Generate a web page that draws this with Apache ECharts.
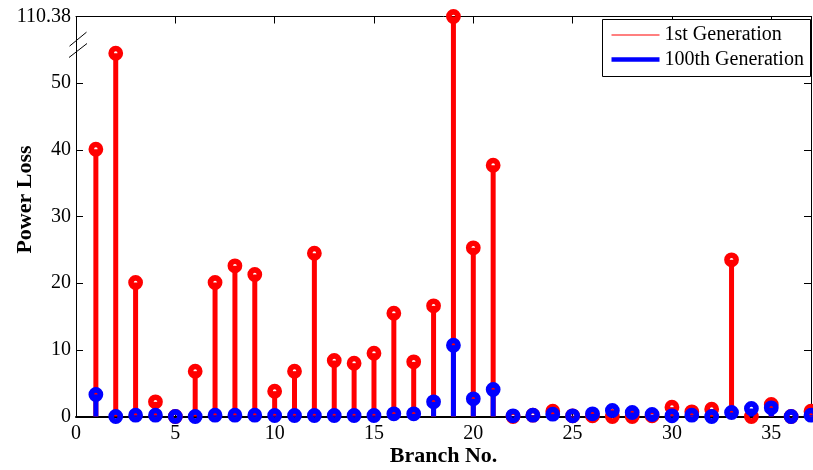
<!DOCTYPE html>
<html>
<head>
<meta charset="utf-8">
<script src="https://cdn.jsdelivr.net/npm/echarts@6/dist/echarts.min.js"></script>
<style>html,body{margin:0;padding:0;background:#fff}#chart{width:813px;height:470px}</style>
</head>
<body>
<div id="chart"></div>
<script>
// ---- data ----
const branches = [1,2,3,4,5,6,7,8,9,10,11,12,13,14,15,16,17,18,19,20,21,22,23,24,25,26,27,28,29,30,31,32,33,34,35,36,37];
const gen1 = [40.1,54.5,20.1,2.2,0.0,6.8,20.1,22.6,21.3,3.8,6.8,24.5,8.4,8.0,9.5,15.5,8.2,16.6,110.38,25.3,37.7,0.0,0.2,0.8,0.1,0.1,0.0,0.0,0.1,1.4,0.7,1.1,23.5,0.0,1.8,0.0,0.8];
const gen100 = [3.3,0.0,0.2,0.2,0.0,0.0,0.2,0.2,0.2,0.15,0.15,0.15,0.15,0.15,0.15,0.4,0.4,2.2,10.7,2.65,4.05,0.1,0.2,0.35,0.1,0.4,0.9,0.6,0.3,0.1,0.2,0.0,0.6,1.2,1.3,0.0,0.2];
const yTicks = [0,10,20,30,40,50];
const yTopLabel = '110.38';
const seriesNames = ['1st Generation','100th Generation'];

// broken y axis: values above breakAt are drawn at the axis top (labelled 110.38)
const axisTop = 60, breakAt = 56;
const toAxis = v => (v > breakAt ? axisTop : v);

const FONT = 'Liberation Serif';
const chart = echarts.init(document.getElementById('chart'), null, {renderer:'canvas'});

function stemRenderer(color, lw) {
  return function (params, api) {
    const x = api.value(0), y = api.value(1);
    const p0 = api.coord([x, 0]);
    const p1 = api.coord([x, y]);
    return {
      type: 'group',
      children: [
        {type:'line', shape:{x1:p0[0], y1:p0[1], x2:p1[0], y2:p1[1]}, style:{stroke:color, lineWidth:lw}},
        {type:'circle', shape:{cx:p1[0], cy:p1[1], r:4.6}, style:{fill:'transparent', stroke:color, lineWidth:5.6}}
      ]
    };
  };
}

const axisCommon = {
  axisLine:{show:true, onZero:false, lineStyle:{color:'#000', width:1}},
  splitLine:{show:false}
};

const option = {
  animation:false,
  backgroundColor:'#fff',
  grid:{left:76, right:2, top:16.5, bottom:53.5, containLabel:false, outerBoundsMode:'none'},
  xAxis:[
    Object.assign({}, axisCommon, {
      type:'value', position:'bottom', min:0, max:37, interval:5,
      axisLine:{show:true, onZero:false, lineStyle:{color:'#000', width:2}},
      axisTick:{show:true, inside:true, length:7, lineStyle:{color:'#000'}},
      axisLabel:{color:'#000', fontFamily:FONT, fontSize:20, margin:7, showMaxLabel:false},
      name:'Branch No.', nameLocation:'middle', nameGap:29, nameMoveOverlap:false,
      nameTextStyle:{color:'#000', fontFamily:FONT, fontSize:22, fontWeight:'bold'}
    }),
    Object.assign({}, axisCommon, {
      type:'value', position:'top', min:0, max:37, interval:5,
      axisTick:{show:true, inside:true, length:7, lineStyle:{color:'#000'}},
      axisLabel:{show:false}
    })
  ],
  yAxis:[
    Object.assign({}, axisCommon, {
      type:'value', position:'left', min:0, max:axisTop, interval:10,
      axisTick:{show:true, inside:true, length:7, lineStyle:{color:'#000'}},
      axisLabel:{color:'#000', fontFamily:FONT, fontSize:20, margin:5,
        formatter: v => (v === axisTop ? yTopLabel : (yTicks.indexOf(v) >= 0 ? String(v) : ''))},
      name:'Power Loss', nameLocation:'middle', nameGap:40, nameMoveOverlap:false,
      nameTextStyle:{color:'#000', fontFamily:FONT, fontSize:22, fontWeight:'bold', padding:[0,0,0,34]}
    }),
    Object.assign({}, axisCommon, {
      type:'value', position:'right', min:0, max:axisTop, interval:10,
      axisTick:{show:true, inside:true, length:7, lineStyle:{color:'#000'}},
      axisLabel:{show:false}
    })
  ],
  legend:[
    {data:[{name:seriesNames[0], icon:'rect', itemStyle:{color:'#ff0000'}}],
     left:611.5, top:25, itemWidth:48, itemHeight:1.2, padding:0, z:10,
     selectedMode:false,
     textStyle:{color:'#000', fontFamily:FONT, fontSize:20}},
    {data:[{name:seriesNames[1], icon:'rect', itemStyle:{color:'#0000ff'}}],
     left:611.5, top:49.5, itemWidth:48, itemHeight:4.5, padding:0, z:10,
     selectedMode:false,
     textStyle:{color:'#000', fontFamily:FONT, fontSize:20}}
  ],
  series:[
    {name:seriesNames[0], type:'custom', xAxisIndex:0, yAxisIndex:0, clip:false, z:2,
     itemStyle:{color:'#ff0000'},
     renderItem: stemRenderer('#ff0000', 5),
     data: branches.map((b,i)=>[b, toAxis(gen1[i])])},
    {name:seriesNames[1], type:'custom', xAxisIndex:0, yAxisIndex:0, clip:false, z:3,
     itemStyle:{color:'#0000ff'},
     renderItem: stemRenderer('#0000ff', 5),
     data: branches.map((b,i)=>[b, toAxis(gen100[i])])}
  ]
};
chart.setOption(option);

// legend frame and axis-break marks, placed via the chart's own coordinate conversion
const pTop = chart.convertToPixel({gridIndex:0}, [0, 56.6]);
const pLow = chart.convertToPixel({gridIndex:0}, [0, 54.9]);
chart.setOption({
  graphic:[
    {type:'rect', z:5, shape:{x:602.5, y:19.5, width:208, height:57}, style:{fill:'#fff', stroke:'#000', lineWidth:1}},
    {type:'line', z:6, shape:{x1:pTop[0]-6.5, y1:pTop[1]+7, x2:pTop[0]+10.5, y2:pTop[1]-7}, style:{stroke:'#000', lineWidth:1}},
    {type:'line', z:6, shape:{x1:pLow[0]-7, y1:pLow[1]+7, x2:pLow[0]+11, y2:pLow[1]-7}, style:{stroke:'#000', lineWidth:1}}
  ]
});
</script>
</body>
</html>
